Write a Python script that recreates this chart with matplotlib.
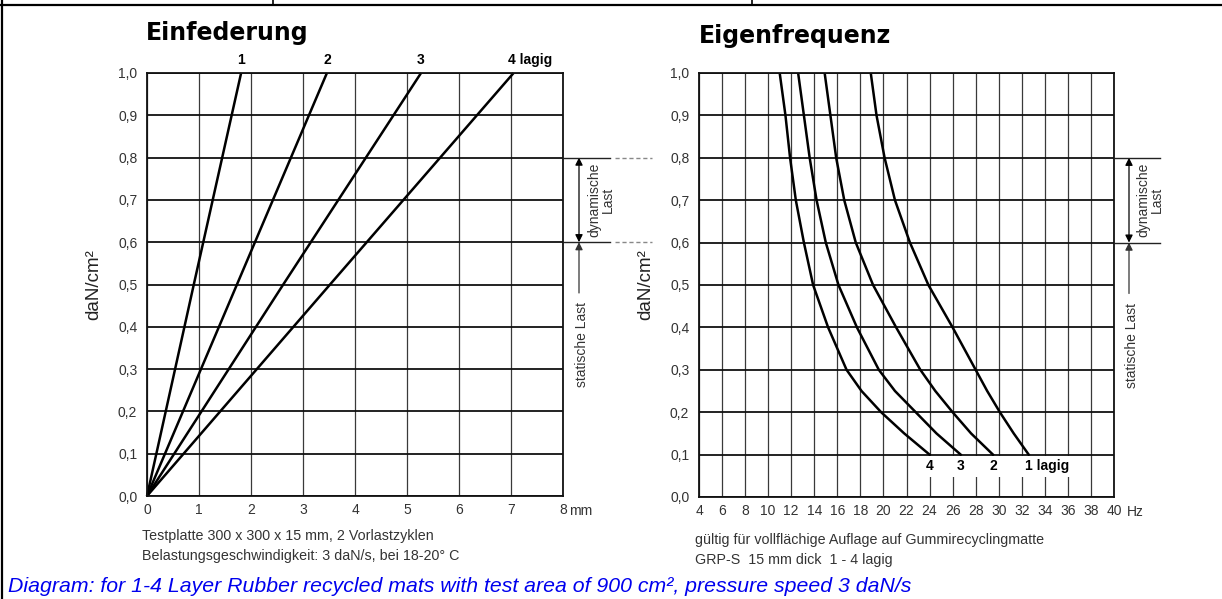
import matplotlib
matplotlib.use("Agg")
import matplotlib.pyplot as plt
import matplotlib.transforms as mtransforms
from matplotlib.lines import Line2D
from matplotlib.patches import Rectangle

plt.rcParams['font.family'] = ['Liberation Sans', 'DejaVu Sans']

# --- Daten ---
last_ticks = [0.0, 0.1, 0.2, 0.3, 0.4, 0.5, 0.6, 0.7, 0.8, 0.9, 1.0]
last_labels = ['0,0', '0,1', '0,2', '0,3', '0,4', '0,5', '0,6', '0,7', '0,8', '0,9', '1,0']

# Einfederung (mm) bei Last (daN/cm²)
einf_last = [0.0, 0.5, 1.0]
einf_1 = [0.0, 0.90, 1.81]
einf_2 = [0.0, 1.73, 3.46]
einf_3 = [0.0, 2.62, 5.27]
einf_4 = [0.0, 3.52, 7.05]
einf_labels = ['1', '2', '3', '4 lagig']
mm_ticks = [0, 1, 2, 3, 4, 5, 6, 7, 8]

# Eigenfrequenz (Hz) bei Last (daN/cm²)
freq_last = [1.0, 0.9, 0.8, 0.7, 0.6, 0.5, 0.4, 0.3, 0.25, 0.2, 0.15, 0.1]
freq_4 = [11.0, 11.5, 11.9, 12.4, 13.1, 13.9, 15.2, 16.8, 18.1, 19.8, 21.8, 24.0]
freq_3 = [12.6, 13.1, 13.6, 14.2, 15.0, 16.1, 17.7, 19.6, 21.0, 22.8, 24.6, 26.7]
freq_2 = [14.9, 15.4, 15.9, 16.6, 17.6, 19.1, 21.1, 23.2, 24.5, 26.0, 27.6, 29.5]
freq_1 = [18.9, 19.4, 20.1, 21.0, 22.3, 23.9, 26.0, 28.0, 29.0, 30.1, 31.3, 32.6]
freq_labels = ['4', '3', '2', '1 lagig']
hz_ticks = list(range(4, 41, 2))

dyn_last = (0.6, 0.8)

W, H = 1222, 599
fig = plt.figure(figsize=(W / 100, H / 100), dpi=100)
ax1 = fig.add_axes([147 / W, 1 - 496 / H, 416 / W, 423 / H])
ax2 = fig.add_axes([699 / W, 1 - 497 / H, 415 / W, 424 / H])

txt_col = '#333333'


def rahmen(ax):
    ax.set_ylim(0, 1.0)
    ax.set_yticks(last_ticks)
    ax.set_yticklabels(last_labels)
    ax.tick_params(length=0, labelsize=10, labelcolor=txt_col)
    ax.tick_params(axis='y', pad=7)
    ax.tick_params(axis='x', pad=5)
    ax.grid(axis='y', color='#111111', lw=1.3)
    ax.grid(axis='x', color='#3a3a3a', lw=0.9)
    for s in ax.spines.values():
        s.set_linewidth(1.3)
        s.set_color('#111111')
    ax.set_ylabel('daN/cm²', fontsize=13.5, color='#222222', labelpad=11)


# Einfederung
for werte in [einf_1, einf_2, einf_3, einf_4]:
    ax1.plot(werte, einf_last, color='black', lw=1.8, solid_capstyle='butt', clip_on=False)
ax1.set_xlim(0, 8)
ax1.set_xticks(mm_ticks)
ax1.set_xticklabels([str(t) for t in mm_ticks])
rahmen(ax1)
lab_x1 = [einf_1[-1], einf_2[-1], einf_3[-1]]
for x, t in zip(lab_x1, einf_labels[:3]):
    ax1.text(x, 1.03, t, ha='center', va='center', fontsize=10, fontweight='bold')
ax1.text(einf_4[-1] - 0.1, 1.03, einf_labels[3], ha='left', va='center', fontsize=10, fontweight='bold')
ax1.text(8.11, -0.035, 'mm', ha='left', va='center', fontsize=10, color=txt_col,
         transform=mtransforms.blended_transform_factory(ax1.transData, ax1.transAxes))
fig.text(146 / W, 1 - 33 / H, 'Einfederung', ha='left', va='center',
         fontsize=17, fontweight='bold', family='DejaVu Sans')

# Eigenfrequenz
for werte in [freq_4, freq_3, freq_2, freq_1]:
    ax2.plot(werte, freq_last, color='black', lw=1.8)
ax2.set_xlim(4, 40)
ax2.set_xticks(hz_ticks)
ax2.set_xticklabels([str(t) for t in hz_ticks])
rahmen(ax2)
ax2.add_patch(Rectangle((23.2, 0.047), 14.0, 0.05, facecolor='white', edgecolor='none', zorder=2))
ende = [freq_4[-1], freq_3[-1], freq_2[-1]]
for x, t in zip(ende, freq_labels[:3]):
    ax2.text(x, 0.073, t, ha='center', va='center', fontsize=10, fontweight='bold', zorder=3)
ax2.text(freq_1[-1] - 0.3, 0.073, freq_labels[3], ha='left', va='center', fontsize=10,
         fontweight='bold', zorder=3)
ax2.text(41.1, -0.035, 'Hz', ha='left', va='center', fontsize=10, color=txt_col,
         transform=mtransforms.blended_transform_factory(ax2.transData, ax2.transAxes))
fig.text(699 / W, 1 - 36 / H, 'Eigenfrequenz', ha='left', va='center',
         fontsize=17, fontweight='bold', family='DejaVu Sans')

# Last-Bereiche (dynamische / statische Last)
def lastpfeile(ax, x0, x1, x_dash, x_pfeil, x_stat, x_dyn):
    tr = mtransforms.blended_transform_factory(fig.transFigure, ax.transData)
    for y in dyn_last:
        fig.add_artist(Line2D([x0 / W, x1 / W], [y, y], transform=tr, color='#222222', lw=1.0))
        if x_dash:
            fig.add_artist(Line2D([x_dash[0] / W, x_dash[1] / W], [y, y], transform=tr,
                                  color='#888888', lw=1.0, ls=(0, (3, 2))))
    ax.annotate('', xy=(x_pfeil / W, dyn_last[1]), xytext=(x_pfeil / W, dyn_last[0]),
                xycoords=tr, textcoords=tr, annotation_clip=False,
                arrowprops=dict(arrowstyle='<|-|>', color='black', lw=0.9,
                                shrinkA=0, shrinkB=0, mutation_scale=11))
    ax.annotate('', xy=(x_pfeil / W, dyn_last[0]), xytext=(x_pfeil / W, 0.48),
                xycoords=tr, textcoords=tr, annotation_clip=False,
                arrowprops=dict(arrowstyle='-|>', color='#333333', lw=0.9,
                                shrinkA=0, shrinkB=0, mutation_scale=11))
    ax.text(x_stat / W, 0.357, 'statische Last', transform=tr, rotation=90,
            ha='center', va='center', fontsize=10, color=txt_col)
    ax.text(x_dyn / W, 0.70, 'dynamische\nLast', transform=tr, rotation=90,
            ha='center', va='center', fontsize=10, color=txt_col, linespacing=0.95,
            multialignment='center')


lastpfeile(ax1, 563, 610, (615, 652), 579, 582, 601)
lastpfeile(ax2, 1114, 1160, None, 1129, 1132, 1150)

# Fusstexte
fig.text(142 / W, 1 - 536 / H, 'Testplatte 300 x 300 x 15 mm, 2 Vorlastzyklen',
         fontsize=10.3, color=txt_col, va='center')
fig.text(142 / W, 1 - 556 / H, 'Belastungsgeschwindigkeit: 3 daN/s, bei 18-20° C',
         fontsize=10.3, color=txt_col, va='center')
fig.text(695 / W, 1 - 540 / H, 'gültig für vollflächige Auflage auf Gummirecyclingmatte',
         fontsize=10.3, color=txt_col, va='center')
fig.text(695 / W, 1 - 560 / H, 'GRP-S  15 mm dick  1 - 4 lagig',
         fontsize=10.3, color=txt_col, va='center')
fig.text(8 / W, 1 - 587 / H,
         'Diagram: for 1-4 Layer Rubber recycled mats with test area of 900 cm², pressure speed 3 daN/s',
         fontsize=15.3, color='#0000ee', style='italic', va='center')

# Tabellenrahmen
fig.add_artist(Line2D([2 / W, 2 / W], [0, 1], transform=fig.transFigure, color='black', lw=1.6))
fig.add_artist(Line2D([0, 1], [1 - 5 / H, 1 - 5 / H], transform=fig.transFigure, color='black', lw=1.6))
for xp in [273, 752]:
    fig.add_artist(Line2D([xp / W, xp / W], [1 - 5 / H, 1], transform=fig.transFigure,
                          color='black', lw=1.2))

fig.savefig('out.png', dpi=100)
